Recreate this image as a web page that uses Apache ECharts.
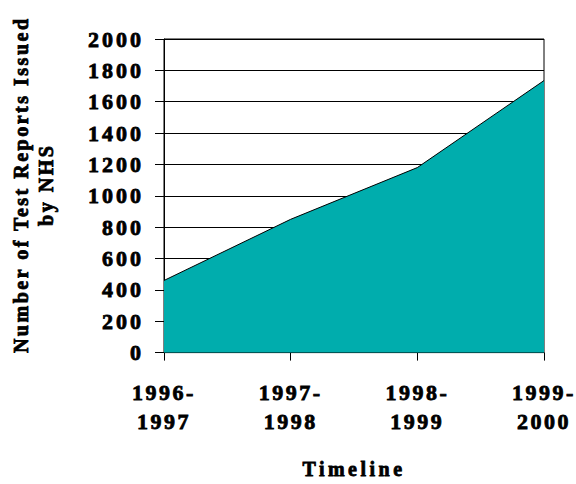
<!DOCTYPE html>
<html>
<head>
<meta charset="utf-8">
<script src="https://cdn.jsdelivr.net/npm/echarts@6/dist/echarts.min.js"></script>
<style>
  html, body { margin: 0; padding: 0; background: #fff; }
  #chart { width: 576px; height: 484px; }
</style>
</head>
<body>
<div id="chart"></div>
<script>
// Reports issued per financial year
const periods = ['1996-\n1997', '1997-\n1998', '1998-\n1999', '1999-\n2000'];
const reportCounts = [460, 850, 1180, 1735];
const yMin = 0, yMax = 2000, yStep = 200;

const FONT = '"Liberation Serif", "Times New Roman", serif';
// heavy bold serif lettering
const INK = { color: '#000', textBorderColor: '#000', textBorderWidth: 0.8 };

const chart = echarts.init(document.getElementById('chart'), null, { renderer: 'svg' });

chart.setOption({
  animation: false,
  backgroundColor: '#ffffff',
  grid: {
    left: 163, right: 32, top: 39, bottom: 130,
    show: true, borderColor: '#000', borderWidth: 1, backgroundColor: 'transparent'
  },
  xAxis: {
    type: 'category',
    data: periods,
    boundaryGap: false,
    name: 'Timeline',
    nameLocation: 'middle',
    nameGap: 106,
    nameTextStyle: Object.assign({ fontFamily: FONT, fontWeight: 'bold', fontSize: 20 }, INK),
    axisLine: { lineStyle: { color: '#000', width: 1 } },
    axisTick: { show: true, length: 8, lineStyle: { color: '#000' } },
    axisLabel: Object.assign({
      fontFamily: FONT, fontWeight: 'bold', fontSize: 22,
      lineHeight: 29, margin: 25
    }, INK),
    splitLine: { show: false }
  },
  yAxis: {
    type: 'value',
    min: yMin, max: yMax, interval: yStep,
    name: 'Number of Test Reports Issued\nby NHS',
    nameLocation: 'middle',
    nameRotate: 90,
    nameGap: 106,
    nameTextStyle: Object.assign({
      fontFamily: FONT, fontWeight: 'bold', fontSize: 20, lineHeight: 25,
      padding: [0, 0, 0, 22]
    }, INK),
    axisLine: { show: true, lineStyle: { color: '#000', width: 1 } },
    axisTick: { show: true, length: 9, lineStyle: { color: '#000' } },
    axisLabel: Object.assign({
      fontFamily: FONT, fontWeight: 'bold', fontSize: 22, margin: 20,
      formatter: function (v) { return String(v); }
    }, INK),
    splitLine: { show: true, lineStyle: { color: '#000', width: 1 } }
  },
  series: [{
    type: 'line',
    data: reportCounts,
    symbol: 'none',
    lineStyle: { color: '#000', width: 1 },
    areaStyle: { color: '#00adad', opacity: 1 }
  }]
});

// Widen the glyph spacing of the bold serif captions
function spaceLetters() {
  document.querySelectorAll('#chart text').forEach(function (t) {
    const s = t.textContent || '';
    const anchor = t.getAttribute('text-anchor') || '';
    let ls = 2.5;
    if (/Timeline/.test(s)) ls = 3.5;
    else if (/Number|NHS/.test(s)) ls = 2.5;
    else if (anchor === 'end') ls = 3;
    t.setAttribute('letter-spacing', ls + 'px');
  });
}
spaceLetters();
chart.on('finished', spaceLetters);
</script>
</body>
</html>
